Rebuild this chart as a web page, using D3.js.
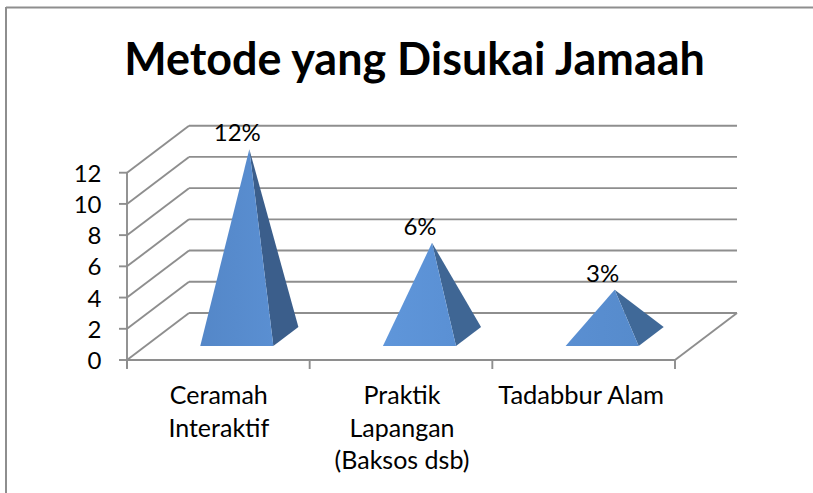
<!DOCTYPE html>
<html><head><meta charset="utf-8">
<script src="https://cdn.jsdelivr.net/npm/d3@7/dist/d3.min.js"></script>
<style>html,body{margin:0;background:#fff}svg{display:block}text{font-family:Lato,"Open Sans",sans-serif;fill:#000}</style>
</head><body><svg id="c" width="813" height="493"></svg>
<script>
const title = "Metode yang Disukai Jamaah";
const categories = ["Ceramah Interaktif","Praktik Lapangan (Baksos dsb)","Tadabbur Alam"];
const categoryLines = [["Ceramah","Interaktif"],["Praktik","Lapangan","(Baksos dsb)"],["Tadabbur Alam"]];
const values = [12,6,3];
const valueLabels = ["12%","6%","3%"];
const yTicks = [0,2,4,6,8,10,12];

const W=813,H=493;
const svg=d3.select("#c");
const x=d3.scaleBand().domain(categories).range([127,675]).paddingInner(.6).paddingOuter(.3);
const y=d3.scaleLinear().domain([0,12]).range([360,172.7]);
const depth={dx:62,dy:-47};
const gridCol="#8e8e8e";
const line=(a,b,c,d,w=1.9)=>svg.append("line").attr("x1",a).attr("y1",b).attr("x2",c).attr("y2",d).attr("stroke",gridCol).attr("stroke-width",w);
const pr=(px,py,t)=>[px+depth.dx*t,py+depth.dy*t];

// chart frame (only top and left edges are visible)
line(6,7.5,W,7.5,2); line(6,7,6,H,2);

svg.append("text").attr("x",414.5).attr("y",75).attr("text-anchor","middle")
  .attr("font-size",44.9).attr("font-weight",700).text(title);

// walls and floor
const xL=x.range()[0], xR=x.range()[1];
yTicks.forEach(t=>{
  const yy=y(t);
  line(xL+depth.dx,yy+depth.dy,xR+depth.dx,yy+depth.dy);
  line(xL,yy,xL+depth.dx,yy+depth.dy);
  line(xL-8,yy,xL,yy);
  svg.append("text").attr("x",101.5).attr("y",yy+9).attr("text-anchor","end").attr("font-size",24).text(t);
});
line(xL,y(12),xL,368);
line(xL,y(0),xR,y(0));
line(xR,y(0),xR+depth.dx,y(0)+depth.dy);
d3.range(4).forEach(i=>{const xx=xL+i*x.step();line(xx,y(0),xx,369);});

// pyramids
const t0=.298,t1=.702;
const defs=svg.append("defs");
const grads=[["#5487c8","#5a8fd2"],["#5f96da","#5a90d4"],["#5a8fd2","#568bcc"]];
const sides=["#3b5e8b","#3f6694","#406998"];
categories.forEach((c,i)=>{
  const l=x(c), r=l+x.bandwidth(), cx=(l+r)/2;
  const fl=pr(l,y(0),t0), fr=pr(r,y(0),t0), br=pr(r,y(0),t1);
  const cd=pr(cx,y(0),.5);
  const apex=[cd[0],y(values[i])+depth.dy*.5];
  const poly=(pts,fill)=>svg.append("polygon").attr("points",pts.map(p=>p.join(",")).join(" ")).attr("fill",fill);
  const g=defs.append("linearGradient").attr("id","g"+i).attr("x1",0).attr("x2",1).attr("y1",0).attr("y2",0);
  g.append("stop").attr("offset",0).attr("stop-color",grads[i][0]);
  g.append("stop").attr("offset",1).attr("stop-color",grads[i][1]);
  poly([apex,fr,br],sides[i]);
  poly([apex,fl,fr],`url(#g${i})`);
  svg.append("text").attr("x",apex[0]-12).attr("y",apex[1]-8).attr("text-anchor","middle").attr("font-size",24).text(valueLabels[i]);
});

// category labels
categories.forEach((c,i)=>{
  const cx=x(c)+x.bandwidth()/2;
  categoryLines[i].forEach((s,k)=>{
    svg.append("text").attr("x",cx+[0.5,1,-2.5][i]).attr("y",404+k*32.7).attr("text-anchor","middle").attr("font-size",i==2?25.5:25).text(s);
  });
});
</script></body></html>
